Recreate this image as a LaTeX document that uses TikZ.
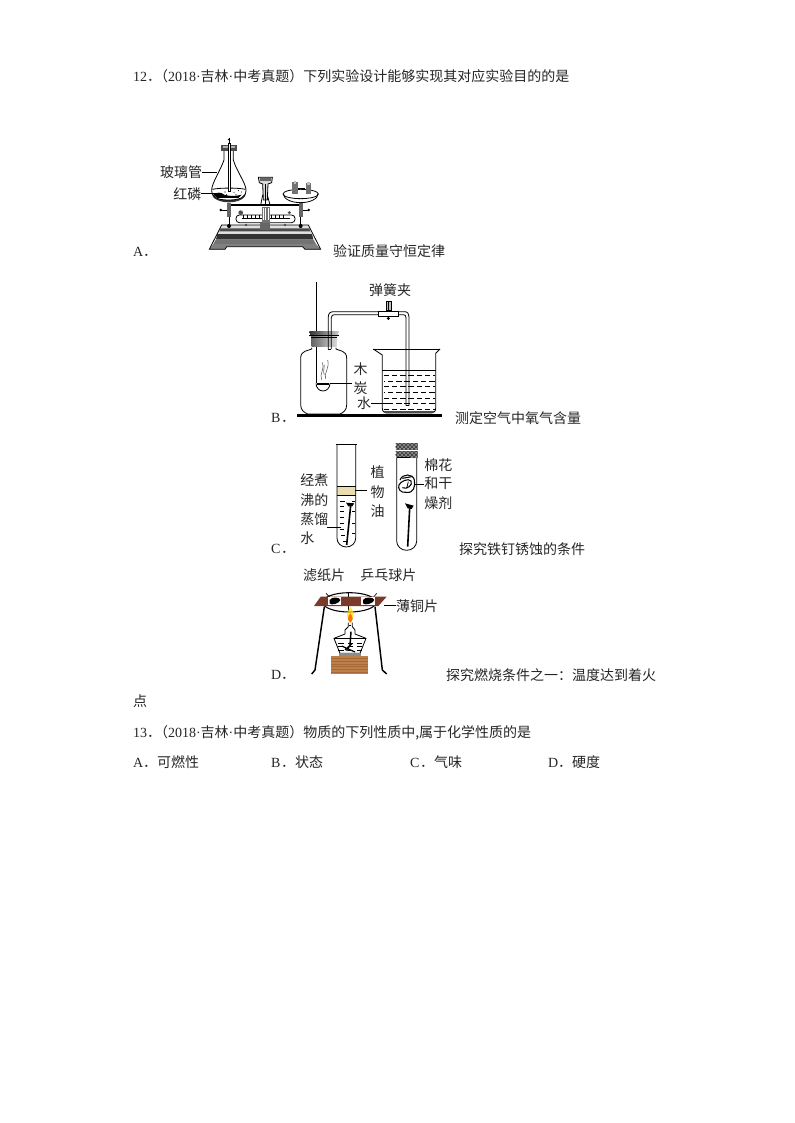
\documentclass[tikz,border=0pt]{standalone}
\usepackage{fontspec}
\setmainfont{Liberation Serif}
\newfontfamily\cjk{Noto Sans CJK SC}
\usetikzlibrary{patterns}
\newcommand{\cj}[1]{{\cjk #1}}
\newcommand{\mdt}{·}
\newcommand{\ltr}[1]{\makebox[7.5pt][l]{#1}}
\definecolor{brownplate}{HTML}{7A3A2A}
\definecolor{wood}{HTML}{BC8048}
\definecolor{woodline}{HTML}{A8693A}
\definecolor{oil}{HTML}{E8DDAE}
\tikzset{
  txt/.style={anchor=base west,inner sep=0pt,outer sep=0pt,font=\fontsize{10.5pt}{12pt}\selectfont,text=black!85},
  lbl/.style={anchor=center,inner sep=0pt,outer sep=0pt,font=\fontsize{10.5pt}{12pt}\selectfont\cjk,text=black!85},
  zoomA/.style={shift={(130,60)},x=0.25pt,y=-0.25pt},
  zoomB/.style={shift={(265,275)},x=0.25pt,y=-0.25pt},
  zoomC/.style={shift={(265,435)},x=0.25pt,y=-0.25pt},
  zoomD/.style={shift={(265,560)},x=0.25pt,y=-0.25pt},
  ln/.style={draw=black,line width=0.6pt},
  thin line/.style={draw=black,line width=0.45pt}
}
\begin{document}
\begin{tikzpicture}[x=0.75pt,y=-0.75pt]
\useasboundingbox[fill=white] (0,0) rectangle (794,1123);
% ---- text lines
\node[txt] (q12) at (133,82) {12\cj{．}\kern-5.25pt\cj{（}2018\mdt\cj{吉林}\mdt\cj{中考真题）下列实验设计能够实现其对应实验目的的是}};
\node[txt] (optA) at (133,256.5) {\ltr{A}\cj{．}};
\node[txt] (capA) at (333,257) {\cj{验证质量守恒定律}};
\node[txt] (optB) at (271,422.5) {\ltr{B}\cj{．}};
\node[txt] (capB) at (455,423) {\cj{测定空气中氧气含量}};
\node[txt] (optC) at (271,553.5) {\ltr{C}\cj{．}};
\node[txt] (capC) at (459,554) {\cj{探究铁钉锈蚀的条件}};
\node[txt] (optD) at (271,679.5) {\ltr{D}\cj{．}};
\node[txt] (capD) at (446,680) {\cj{探究燃烧条件之一：温度达到着火}};
\node[txt] (capD2) at (133,706) {\cj{点}};
\node[txt] (q13) at (133,737) {13\cj{．}\kern-5.25pt\cj{（}2018\mdt\cj{吉林}\mdt\cj{中考真题）物质的下列性质中,属于化学性质的是}};
\node[txt] (a13) at (133,767) {\ltr{A}\cj{．可燃性}};
\node[txt] (b13) at (271,767) {\ltr{B}\cj{．状态}};
\node[txt] (c13) at (410,767) {\ltr{C}\cj{．气味}};
\node[txt] (d13) at (548,767) {\ltr{D}\cj{．硬度}};
% ---- Figure A
\begin{scope}[zoomA]
 % base
 \fill[black!12] (275,495) -- (535,495) -- (545,520) -- (262,520) -- cycle;
 \fill[black!70] (272,505) -- (538,505) -- (541,514) -- (268,514) -- cycle;
 \fill[black!55] (258,538) -- (550,538) -- (558,552) -- (250,552) -- cycle;
 \fill[black!80] (262,522) -- (546,522) -- (550,538) -- (258,538) -- cycle;
 \fill[black!50] (238,568) -- (250,552) -- (558,552) -- (572,568) -- (525,568) -- (518,560) -- (290,560) -- (285,568) -- cycle;
 \draw[ln] (275,495) -- (535,495) -- (572,568) -- (525,568) -- (518,560) -- (290,560) -- (285,568) -- (238,568) -- cycle;
 % scale plate
 \draw[ln,fill=white,rounded corners=2.5pt] (318,465) rectangle (495,488);
 \foreach \i in {340,352,...,470}{\draw[thin line] (\i,466) -- (\i,474);}
 \draw[thin line] (335,474) -- (480,474);
 \fill[black!70] (332,458) circle[radius=7];
 \fill[black!70] (478,458) circle[radius=5];
 \fill[black!70] (348,495) circle[radius=4];
 \fill[black!70] (465,495) circle[radius=4];
 % column
 \fill[black!55] (395,440) rectangle (420,500);
 \foreach \i in {400,407,414}{\draw[white,line width=0.5pt] (\i,445) -- (\i,480);}
 \fill[black!60] (390,490) rectangle (420,510);
 \draw[ln,fill=black!15] (385,352) -- (427,352) -- (425,368) -- (414,372) -- (412,420) -- (400,420) -- (398,372) -- (388,368) -- cycle;
 \fill[black!60] (390,355) rectangle (422,362);
 \draw[ln] (405,372) -- (405,435);
 \draw[ln] (398,405) -- (392,435);
 \draw[ln] (412,405) -- (420,435);
 % beam
 \draw[draw=black,line width=1.1pt] (300,435) -- (510,435);
 % posts
 \fill[black!60] (291,430) rectangle (303,470);
 \draw[ln] (297,470) -- (297,505);
 \fill[black] (297,498) circle[radius=6];
 \fill[black!60] (506,430) rectangle (518,470);
 \draw[ln] (512,470) -- (512,505);
 \fill[black] (512,498) circle[radius=6];
 \draw[ln] (272,450) -- (291,450);
 \fill (272,450) circle[radius=4];
 \draw[ln] (518,450) -- (538,450);
 \fill (536,450) circle[radius=4];
 % pans
 \fill[black!80] (245,400) arc[start angle=180,end angle=0,x radius=51.5,y radius=27] -- cycle;
 \fill[white] (250,401) arc[start angle=180,end angle=0,x radius=47,y radius=19] -- cycle;
 \draw[ln,fill=white] (512,402) ellipse[x radius=53,y radius=14];
 \draw[ln] (460,402) arc[start angle=180,end angle=0,x radius=52,y radius=26];
 \fill[black!55] (487,366) rectangle (503,402);
 \fill[black!55] (527,370) rectangle (543,402);
 \fill[black!25] (491,362) rectangle (499,372);
 \fill[black!25] (531,366) rectangle (539,376);
 \draw[ln] (505,385) -- (525,385);
 % flask
 \draw[ln,fill=white] (282,270) -- (282,300) .. controls (272,330) and (245,370) .. (245,390) .. controls (245,412) and (262,420) .. (296,420) .. controls (330,420) and (348,412) .. (348,390) .. controls (348,370) and (318,330) .. (310,300) -- (310,270);
 \draw[ln] (247,388) .. controls (270,383) and (325,383) .. (346,388);
 \fill[black] (250,404) .. controls (258,396) and (275,396) .. (282,404) .. controls (300,410) and (320,408) .. (335,404) -- (325,414) -- (262,414) -- cycle;
 \foreach \p in {(300,392),(312,398),(325,392),(285,396),(335,396),(290,404),(318,403)}{\fill \p circle[radius=1.6];}
 % stopper + tube
 \fill[black!70] (272,255) rectangle (322,272);
 \fill[black!30] (279,258) rectangle (316,264);
 \draw[ln,fill=white] (295,250) rectangle (302,395);
 \draw[ln] (298,235) -- (298,250);
 \draw[ln] (294,240) .. controls (298,232) and (302,244) .. (298,250);
 % callouts
 \node[lbl] (l1) at (153,335) {玻璃管};
 \node[lbl] (l2) at (172,403) {红磷};
 \coordinate (l1e) at (262,338);
 \coordinate (l2e) at (272,400);
 \draw[ln] (l1.east |- l1e) -- (l1e);
 \draw[ln] (l2.east |- l2e) -- (l2e);
\end{scope}
% ---- Figure B
\begin{scope}[zoomB]
 % base
 \draw[draw=black,line width=2pt] (97,421) -- (530,421);
 % bottle
 \draw[ln] (140,218) -- (140,222) .. controls (130,228) and (107,225) .. (107,250) -- (107,390) .. controls (107,405) and (118,413) .. (128,417) -- (225,417) .. controls (235,413) and (245,405) .. (245,390) -- (245,250) .. controls (245,225) and (222,228) .. (213,222) -- (213,218);
 % spoon
 \draw[ln] (155,20) -- (155,325);
 \draw[ln,fill=white] (153,325) arc[start angle=180,end angle=0,x radius=21,y radius=23];
 \draw[draw=black,line width=1.4pt] (155,326) -- (193,326);
 % smoke
 \draw[thin line,black!60] (170,315) .. controls (162,295) and (180,285) .. (172,262);
 \draw[thin line,black!60] (182,312) .. controls (175,295) and (195,280) .. (188,255);
 \draw[thin line,black!60] (178,300) .. controls (172,285) and (180,280) .. (178,270);
 % stopper
 \shade[left color=black!80,right color=black!20] (133,168) -- (222,168) -- (218,185) -- (137,185) -- cycle;
 \shade[left color=black!60,right color=black!15] (140,185) rectangle (215,215);
 \draw[ln] (133,180) -- (222,180);
 \draw[ln] (138,186) -- (217,186);
 % tube
 \draw[ln] (190,222) -- (190,125) .. controls (190,115) and (196,110) .. (206,110) -- (340,110);
 \draw[ln] (199,222) -- (199,128) .. controls (199,122) and (203,119) .. (208,119) -- (340,119);
 \draw[ln] (190,222) -- (199,222);
 \draw[ln] (400,110) -- (418,110) .. controls (428,110) and (432,116) .. (432,125) -- (432,392);
 \draw[ln] (400,119) -- (415,119) .. controls (420,119) and (423,122) .. (423,128) -- (423,392);
 \draw[ln] (423,392) -- (432,392);
 % clip
 \draw[ln,fill=white] (340,108) rectangle (400,123);
 \draw[ln,fill=black!25] (363,80) rectangle (378,105);
 \draw[ln] (370,80) -- (370,105);
 \draw[ln] (370,123) -- (370,135);
 \fill (370,130) circle[radius=5];
 % beaker
 \draw[ln] (325,222) -- (525,222);
 \draw[ln] (325,222) -- (352,240) -- (352,400) .. controls (352,410) and (358,414) .. (368,414) -- (496,414) .. controls (506,414) and (512,410) .. (512,400) -- (512,235) -- (525,222);
 \draw[ln] (352,285) -- (512,285);
 \draw[draw=black!70,line width=1.1pt] (356,411) -- (508,411);
 \foreach \y/\o in {300/0,318/3,335/0,352/3,370/0,385/3,402/0}{
   \draw[thin line,dash pattern=on 4pt off 2.2pt,dash phase=\o pt] (356,\y) -- (510,\y);
 }
 % labels
 \node[lbl] (spring) at (375,44) {弹簧夹};
 \node[lbl] (wood1) at (287,282) {木};
 \node[lbl] (wood2) at (287,340) {炭};
 \node[lbl] (water) at (297,385) {水};
 \coordinate (spoonpt) at (195,325);
 \coordinate (waterpt) at (380,385);
 \draw[ln] (spoonpt) -- (262,325);
 \draw[ln] (water.east) -- (waterpt);
\end{scope}
% ---- Figure C
\begin{scope}[zoomC]
 % tube 1
 \fill[oil] (216,155) rectangle (272,181);
 \draw[ln] (212,28) -- (276,28);
 \draw[ln] (216,28) -- (216,310) arc[start angle=180,end angle=0,x radius=28,y radius=26] -- (272,28);
 \draw[ln] (216,154) -- (272,154);
 \draw[draw=black,line width=1pt] (216,182) -- (272,182);
 \foreach \y/\a/\b in {198/224/240,214/224/236,230/224/236,248/224/236,266/224/236,284/224/236,302/228/240,318/234/248}{
   \draw[thin line] (\a,\y) -- (\b,\y);
 }
 \foreach \y in {198,230,264,296}{\draw[thin line] (262,\y) -- (270,\y);}
 % nail 1
 \draw[draw=black,line width=1.2pt] (257,212) -- (245,330);
 \fill (243,203) -- (268,205) -- (262,214) -- (250,214) -- cycle;
 % tube 2
 \draw[ln] (395,68) -- (395,318) arc[start angle=180,end angle=0,x radius=30,y radius=28] -- (455,68);
 \fill[black!45] (392,25) rectangle (458,68);
 \path[pattern=crosshatch,pattern color=black!80] (392,25) rectangle (458,44);
 \path[pattern=crosshatch,pattern color=black!80] (392,50) rectangle (458,68);
 \draw[ln,white] (389,47) -- (460,47);
 \draw[draw=black,line width=1pt] (395,68) -- (435,68);
 % cotton
 \draw[draw=black,line width=0.8pt] (405,135) .. controls (412,115) and (445,115) .. (448,135) .. controls (452,155) and (445,175) .. (425,172) .. controls (405,175) and (398,160) .. (402,150) .. controls (405,140) and (430,128) .. (438,138) .. controls (445,150) and (425,165) .. (412,158);
 \draw[draw=black,line width=0.8pt] (412,130) -- (440,125);
 \draw[draw=black,line width=0.6pt] (430,140) -- (425,160);
 % nail 2
 \draw[draw=black,line width=1.2pt] (434,220) -- (428,335);
 \fill (420,205) -- (446,212) -- (440,222) -- (428,220) -- cycle;
 % labels
 \node[lbl] (oa) at (338,112) {植};
 \node[lbl] (ob) at (338,172) {物};
 \node[lbl] (oc) at (338,230) {油};
 \node[lbl] (ca) at (520,90) {棉花};
 \node[lbl] (cb) at (520,145) {和干};
 \node[lbl] (cc) at (520,205) {燥剂};
 \node[lbl] (wa) at (148,135) {经煮};
 \node[lbl] (wb) at (148,195) {沸的};
 \node[lbl] (wc) at (148,253) {蒸馏};
 \node[lbl] (wd) at (127,310) {水};
 \coordinate (oilpt) at (270,165);
 \coordinate (cottonpt) at (448,148);
 \coordinate (waterpt2) at (228,278);
 \draw[ln] (oilpt) -- (306,165);
 \draw[ln] (cottonpt) -- (476,148);
 \draw[ln] (186,278) -- (waterpt2);
\end{scope}
% ---- Figure D
\begin{scope}[zoomD]
 % wood
 \fill[wood] (198,287) rectangle (310,342);
 \foreach \y in {296,304,312,320,328,336}{\draw[draw=woodline,line width=0.3pt] (198,\y) -- (310,\y);}
 % legs
 \draw[draw=black,line width=1.1pt] (178,140) -- (150,330) -- (140,342);
 \draw[draw=black,line width=1.1pt] (330,140) -- (352,330) -- (365,342);
 % ring
 \draw[draw=black,line width=0.8pt] (253,127) ellipse[x radius=80,y radius=29];
 \draw[draw=black,line width=0.8pt] (250,98) -- (250,157);
 \draw[thin line] (183,100) -- (195,112);
 \draw[thin line] (335,100) -- (325,112);
 % plate
 \fill[brownplate] (167,110) -- (365,110) -- (340,138) -- (147,138) -- cycle;
 % filter papers
 \fill[white] (188,112) rectangle (228,135);
 \fill[white] (288,112) rectangle (330,135);
 \fill[black] (194,120) .. controls (200,108) and (226,112) .. (226,120) .. controls (224,130) and (198,138) .. (194,130) -- cycle;
 \fill[black] (294,120) .. controls (300,108) and (328,112) .. (328,120) .. controls (326,130) and (298,138) .. (294,130) -- cycle;
 % flame
 \fill[yellow!85!orange,opacity=0.7] (256,140) .. controls (268,155) and (270,175) .. (256,188) .. controls (242,175) and (244,155) .. (256,140);
 \fill[orange!90!red] (256,160) .. controls (264,170) and (266,180) .. (256,188) .. controls (246,180) and (248,170) .. (256,160);
 % lamp
 \draw[ln] (250,188) -- (250,200) -- (240,210) -- (240,222) -- (207,235) -- (225,280) -- (285,280) -- (303,235) -- (270,222) -- (270,210) -- (262,200) -- (262,188);
 \draw[ln] (207,235) -- (303,235);
 \draw[ln] (252,195) -- (258,195);
 \foreach \y in {250,260,270}{\draw[thin line,dash pattern=on 4pt off 3pt] (220,\y) -- (290,\y);}
 \draw[draw=black,line width=1.1pt] (258,215) -- (255,255) -- (245,272);
 \draw[draw=black,line width=0.9pt] (262,250) -- (240,270) (230,258) -- (270,276);
 \fill[black!45] (222,280) rectangle (288,287);
 % labels
 \node[lbl] (fp) at (177,47) {滤纸片};
 \node[lbl] (pp) at (370,47) {乒乓球片};
 \node[lbl] (cu) at (456,138) {薄铜片};
 \coordinate (platept) at (358,135);
 \draw[ln] (platept) -- (cu.west |- platept);
\end{scope}
\end{tikzpicture}
\end{document}
